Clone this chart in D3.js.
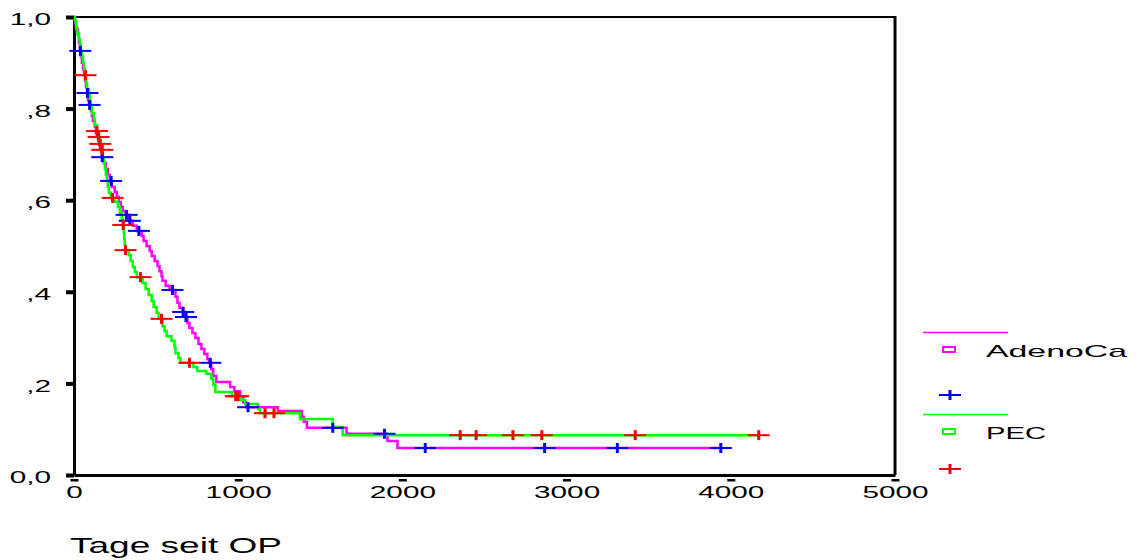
<!DOCTYPE html>
<html>
<head>
<meta charset="utf-8">
<script src="https://cdn.jsdelivr.net/npm/d3@7"></script>
<style>
  body { margin: 0; background: #fff; }
  svg { display: block; }
  text { font-family: "Liberation Sans", Arial, sans-serif; fill: #000; }
</style>
</head>
<body>
<svg id="chart" width="1137" height="560"></svg>
<script>
// Kaplan-Meier steps: time (days) at which survival drops, and the value after the drop
const adenoTimes = [6,12,24,30,36,42,48,55,61,67,73,79,85,91,103,109,115,127,133,145,
  152,164,170,182,194,206,218,230,248,261,273,285,297,315,333,358,382,412,424,442,
  461,473,491,509,521,533,539,558,582,618,630,642,661,679,691,703,721,739,758,776,
  794,812,824,836,848,867,951,976,1012,1030,1048,1242,1388,1400,1418,1660,1909,1970];
const adenoSurv = [0.987,0.974,0.961,0.943,0.926,0.913,0.900,0.886,0.873,0.860,
  0.847,0.834,0.819,0.808,0.795,0.784,0.773,0.760,0.747,0.734,
  0.721,0.707,0.694,0.681,0.668,0.655,0.642,0.629,0.618,0.607,
  0.596,0.585,0.576,0.568,0.555,0.544,0.533,0.522,0.511,0.500,
  0.489,0.478,0.467,0.456,0.445,0.434,0.424,0.413,0.404,0.389,
  0.376,0.365,0.356,0.345,0.332,0.321,0.310,0.299,0.286,0.275,
  0.264,0.253,0.245,0.231,0.216,0.203,0.192,0.183,0.172,0.159,
  0.148,0.140,0.127,0.116,0.103,0.090,0.074,0.059];
// censored observations (days)
const adenoCensored = [39,82,95,172,226,320,340,395,600,665,682,830,1060,1576,1891,2139,2866,3309,3939];

const pecTimes = [6,12,18,30,36,42,48,55,61,67,73,79,91,97,103,109,121,127,139,145,
  158,164,176,182,188,194,200,206,212,224,248,267,279,291,297,303,306,309,312,333,
  345,358,370,382,418,436,455,473,485,503,515,539,551,564,594,612,618,636,648,727,
  751,806,836,848,861,964,1018,1042,1121,1133,1376,1576,1636];
const pecSurv = [0.991,0.978,0.965,0.952,0.939,0.926,0.913,0.900,0.886,0.873,
  0.856,0.843,0.830,0.815,0.803,0.790,0.777,0.764,0.751,0.738,
  0.723,0.710,0.694,0.681,0.668,0.655,0.642,0.629,0.616,0.605,
  0.596,0.585,0.572,0.559,0.546,0.531,0.515,0.502,0.491,0.480,
  0.467,0.454,0.443,0.432,0.419,0.406,0.393,0.380,0.367,0.354,
  0.341,0.325,0.314,0.303,0.293,0.279,0.266,0.255,0.245,0.236,
  0.227,0.221,0.210,0.197,0.181,0.172,0.164,0.155,0.144,0.135,
  0.122,0.105,0.087];
const pecCensored = [70,140,150,160,172,235,300,314,405,533,703,985,1000,1163,1218,2352,2449,2673,2849,3418,4170];

const xTicks = [0, 1000, 2000, 3000, 4000, 5000];
const yTicks = [0, 0.2, 0.4, 0.6, 0.8, 1.0];
const yTickLabels = ["0,0", ",2", ",4", ",6", ",8", "1,0"];
const groupNames = ["AdenoCa", "PEC"];
const xTitle = "Tage seit OP";

const colors = { adeno: "#ff00ff", adenoCens: "#0000ff", pec: "#00ff00", pecCens: "#ff0000" };

const svg = d3.select("#chart");
const x = d3.scaleLinear().domain([0, 5000]).range([74, 895]);
const y = d3.scaleLinear().domain([0, 1]).range([475, 17]);

function stepPoints(times, surv, end) {
  const pts = [[0, 1]];
  times.forEach((t, i) => pts.push([t, surv[i]]));
  pts.push([end, surv[surv.length - 1]]);
  return pts;
}
function survAt(times, surv, t) {
  let s = 1;
  for (let i = 0; i < times.length; i++) { if (times[i] <= t) s = surv[i]; else break; }
  return s;
}
const stepLine = d3.line().x(d => x(d[0])).y(d => y(d[1])).curve(d3.curveStepAfter);

// frame: top and right edges
svg.append("line").attr("x1", x(0)).attr("x2", x(5000)).attr("y1", y(1)).attr("y2", y(1))
  .attr("stroke", "#000").attr("stroke-width", 2);
svg.append("line").attr("x1", x(5000)).attr("x2", x(5000)).attr("y1", y(1) - 1).attr("y2", y(0))
  .attr("stroke", "#000").attr("stroke-width", 3);

// y axis
const gy = svg.append("g").attr("transform", `translate(${x(0)},0)`)
  .call(d3.axisLeft(y).tickValues(yTicks).tickFormat((d, i) => yTickLabels[i])
    .tickSize(8).tickSizeOuter(0).tickPadding(15));
gy.select(".domain").attr("stroke", "#000").attr("stroke-width", 3);
gy.selectAll(".tick line").attr("stroke", "#000").attr("stroke-width", 4);
gy.selectAll(".tick text").attr("font-size", 17).attr("font-family", "Liberation Sans, Arial, sans-serif")
  .attr("dy", "0.45em")
  .each(function () {
    const t = d3.select(this); const tx = +t.attr("x");
    t.attr("x", 0).attr("transform", `translate(${tx},0) scale(1.75,1)`);
  });

// x axis
const gx = svg.append("g").attr("transform", `translate(0,${y(0)})`)
  .call(d3.axisBottom(x).tickValues(xTicks).tickFormat(d3.format("d"))
    .tickSize(7).tickSizeOuter(0).tickPadding(4));
gx.select(".domain").attr("stroke", "#000").attr("stroke-width", 3);
gx.selectAll(".tick line").attr("stroke", "#000").attr("stroke-width", 8).attr("y1", 4).attr("y2", 6.5);
gx.selectAll(".tick text").attr("font-size", 17).attr("font-family", "Liberation Sans, Arial, sans-serif")
  .attr("transform", "scale(1.75,1)");

// survival curves
const adenoEnd = d3.max(adenoCensored);
const pecEnd = d3.max(pecCensored);
svg.append("path").datum(stepPoints(adenoTimes, adenoSurv, adenoEnd))
  .attr("d", stepLine).attr("fill", "none").attr("stroke", colors.adeno).attr("stroke-width", 2.5);
svg.append("path").datum(stepPoints(pecTimes, pecSurv, pecEnd))
  .attr("d", stepLine).attr("fill", "none").attr("stroke", colors.pec).attr("stroke-width", 2.5);

// censor marks
function plus(g, cx, cy, color) {
  g.append("line").attr("x1", cx - 11).attr("x2", cx + 11).attr("y1", cy).attr("y2", cy)
    .attr("stroke", color).attr("stroke-width", 2);
  g.append("line").attr("x1", cx).attr("x2", cx).attr("y1", cy - 5).attr("y2", cy + 5)
    .attr("stroke", color).attr("stroke-width", 3);
}
const cens = svg.append("g");
adenoCensored.forEach(t => plus(cens, x(t), y(survAt(adenoTimes, adenoSurv, t)), colors.adenoCens));
pecCensored.forEach(t => plus(cens, x(t), y(survAt(pecTimes, pecSurv, t)), colors.pecCens));

// axis title
svg.append("text").attr("x", 70).attr("y", 553).attr("font-size", 22)
  .attr("textLength", 212).attr("lengthAdjust", "spacingAndGlyphs").text(xTitle);

// legend
const legend = svg.append("g");
const legendRows = [
  { name: groupNames[0], line: colors.adeno, cens: colors.adenoCens, top: 332, plusY: 395, width: 141 },
  { name: groupNames[1], line: colors.pec, cens: colors.pecCens, top: 414, plusY: 469, width: 60 }
];
legendRows.forEach(r => {
  legend.append("line").attr("x1", 923).attr("x2", 1008).attr("y1", r.top + 0.5).attr("y2", r.top + 0.5)
    .attr("stroke", r.line).attr("stroke-width", 1.5);
  legend.append("rect").attr("x", 943).attr("y", r.top + 15).attr("width", 12).attr("height", 5)
    .attr("fill", "none").attr("stroke", r.line).attr("stroke-width", 2);
  legend.append("text").attr("x", 986).attr("y", r.top + 25).attr("font-size", 17)
    .attr("textLength", r.width).attr("lengthAdjust", "spacingAndGlyphs").text(r.name);
  plus(legend, 950, r.plusY, r.cens);
});
</script>
</body>
</html>
